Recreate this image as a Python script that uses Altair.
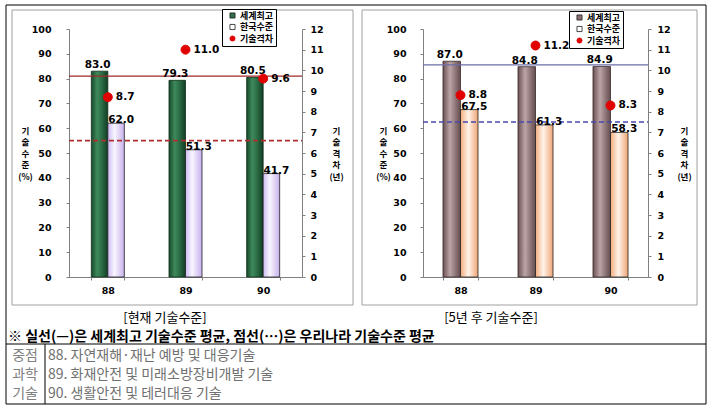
import altair as alt
import pandas as pd

categories = ["88", "89", "90"]
series_names = ["세계최고", "한국수준", "기술격차"]

now_world = [83.0, 79.3, 80.5]
now_korea = [62.0, 51.3, 41.7]
now_gap = [8.7, 11.0, 9.6]
now_world_avg = [81.0]
now_korea_avg = [55.0]

fut_world = [87.0, 84.8, 84.9]
fut_korea = [67.5, 61.3, 58.3]
fut_gap = [8.8, 11.2, 8.3]
fut_world_avg = [85.5]
fut_korea_avg = [62.5]

level_ticks = list(range(0, 101, 10))
gap_ticks = list(range(0, 13))

level_title = ["기", "술", "수", "준", "(%)"]
gap_title = ["기", "술", "격", "차", "(년)"]
captions = ["[현재 기술수준]", "[5년 후 기술수준]"]
note_text = ["※ 실선(—)은 세계최고 기술수준 평균, 점선(…)은 우리나라 기술수준 평균"]
table_heads = ["중점", "과학", "기술"]
table_items = ["88. 자연재해·재난 예방 및 대응기술",
               "89. 화재안전 및 미래소방장비개발 기술",
               "90. 생활안전 및 테러대응 기술"]

W, H = 711, 409
KR = "Noto Sans CJK KR"
NUM = "DejaVu Sans"
Y_BOTTOM, Y_TOP = 277, 29
RED = "#E00000"


def grad(stops):
    return alt.Gradient(gradient="linear", x1=0, x2=1, y1=0, y2=0,
                        stops=[alt.GradientStop(offset=o, color=c) for o, c in stops])


def panel(world, korea, gap, world_avg, korea_avg, cfg):
    x0, x1 = cfg["x0"], cfg["x1"]
    x_enc = alt.X(
        "cat:N",
        scale=alt.Scale(domain=categories, range=[x0, x1],
                        paddingInner=cfg["pad"], paddingOuter=cfg["pad"] / 2),
        axis=alt.Axis(orient="bottom", offset=Y_BOTTOM - H, title=None, labelAngle=0,
                      tickBand="extent", domainColor="#808080", tickColor="#808080",
                      tickSize=3, labelPadding=5, labelFont=NUM, labelFontSize=9.5,
                      labelFontWeight="bold", labelColor="black"))
    xo = alt.XOffset("series:N", scale=alt.Scale(domain=series_names[:2],
                                                 paddingInner=0, paddingOuter=0))
    y_enc = alt.Y(
        "value:Q",
        scale=alt.Scale(domain=[0, 100], range=[Y_BOTTOM, Y_TOP], nice=False),
        axis=alt.Axis(orient="left", offset=-x0, values=level_ticks, grid=False,
                      title=level_title, titleAngle=0, titleX=cfg["ltx"] - x0, titleY=126,
                      titleAlign="center", titleBaseline="top", titleLineHeight=11.5,
                      titleFont=KR, titleFontSize=8.5, titleFontWeight="bold", titleColor="black",
                      domainColor="#808080", tickColor="#808080", tickSize=3,
                      labelPadding=cfg["lpad"], labelFont=NUM, labelFontSize=9.5,
                      labelFontWeight="bold", labelColor="black"))
    g_y = alt.Y(
        "gap:Q",
        scale=alt.Scale(domain=[0, 12], range=[Y_BOTTOM, Y_TOP], nice=False),
        axis=alt.Axis(orient="right", offset=x1 - W, values=gap_ticks, grid=False,
                      title=gap_title, titleAngle=0, titleX=cfg["rtx"] - x1, titleY=126,
                      titleAlign="center", titleBaseline="top", titleLineHeight=11.5,
                      titleFont=KR, titleFontSize=8.5, titleFontWeight="bold", titleColor="black",
                      domainColor="#808080", tickColor="#808080", tickSize=3,
                      labelPadding=cfg["rpad"], labelFont=NUM, labelFontSize=9.5,
                      labelFontWeight="bold", labelColor="black"))

    wdf = pd.DataFrame({"cat": categories, "series": series_names[0], "value": world})
    kdf = pd.DataFrame({"cat": categories, "series": series_names[1], "value": korea})
    gdf = pd.DataFrame({"cat": categories, "kind": series_names[2], "gap": gap})

    bw = alt.Chart(wdf).mark_bar(fill=grad(cfg["wgrad"]), stroke=cfg["wstroke"],
                                 strokeWidth=0.8).encode(x=x_enc, xOffset=xo, y=y_enc)
    bk = alt.Chart(kdf).mark_bar(fill=grad(cfg["kgrad"]), stroke="#202020",
                                 strokeWidth=0.8).encode(x=x_enc, xOffset=xo, y=y_enc)
    lw = alt.Chart(wdf).mark_text(font=NUM, fontSize=10.5, fontWeight="bold", baseline="middle",
                                  dy=-6, dx=-2, color="black").encode(
        x=x_enc, xOffset=xo, y=y_enc, text=alt.Text("value:Q", format=".1f"))
    lk = alt.Chart(kdf).mark_text(font=NUM, fontSize=10.5, fontWeight="bold", baseline="middle",
                                  dy=-3, dx=5, color="black").encode(
        x=x_enc, xOffset=xo, y=y_enc, text=alt.Text("value:Q", format=".1f"))
    rw = alt.Chart(pd.DataFrame({"value": world_avg})).mark_rule(
        color=cfg["solid"], strokeWidth=1.2).encode(y=y_enc, x=alt.value(x0), x2=alt.value(x1))
    rk = alt.Chart(pd.DataFrame({"value": korea_avg})).mark_rule(
        color=cfg["dash"], strokeWidth=1.6, strokeDash=[5, 3]).encode(
        y=y_enc, x=alt.value(x0), x2=alt.value(x1))

    legend = alt.Legend(title=None, orient="none", legendX=cfg["lgx"], legendY=cfg["lgy"],
                        fillColor="white", strokeColor="black", padding=2,
                        labelFont=KR, labelFontSize=9, labelFontWeight="bold", labelColor="black",
                        symbolSize=26, rowPadding=1.5, symbolStrokeWidth=0.8, labelOffset=3,
                        symbolOffset=4, labelExpr="datum.label + '     '")
    dots = alt.Chart(gdf).mark_point(filled=True, size=80, opacity=1, strokeWidth=1).encode(
        x=x_enc, y=g_y,
        color=alt.Color("kind:N", scale=alt.Scale(domain=series_names, range=cfg["legend_fill"]),
                        legend=legend),
        shape=alt.Shape("kind:N", scale=alt.Scale(domain=series_names,
                                                  range=["square", "square", "circle"]),
                        legend=legend),
        stroke=alt.Stroke("kind:N", scale=alt.Scale(domain=series_names,
                                                    range=["#202020", "#202020", RED]),
                          legend=legend))
    gl = alt.Chart(gdf).mark_text(font=NUM, fontSize=10.5, fontWeight="bold", align="left",
                                  baseline="middle", dx=8, color="black").encode(
        x=x_enc, y=g_y, text=alt.Text("gap:Q", format=".1f"))

    primary = alt.layer(bw, bk, rw, rk, lw, lk)
    secondary = alt.layer(dots, gl)
    return alt.layer(primary, secondary).resolve_scale(y="independent")


left_cfg = dict(x0=69, x1=302, pad=0.575, ltx=25, rtx=336, lpad=15, rpad=5,
                lgx=222, lgy=9,
                wgrad=[(0, "#174A2C"), (0.35, "#3E8A5C"), (0.65, "#2A6B44"), (1, "#123D24")],
                kgrad=[(0, "#CDBAF2"), (0.4, "#F9F6FF"), (1, "#C6B0EC")],
                wstroke="#0E2E1A", solid="#A02828", dash="#B03030",
                legend_fill=["#2E7048", "white", RED])
right_cfg = dict(x0=423, x1=648, pad=0.533, ltx=383, rtx=684, lpad=14, rpad=6,
                 lgx=569, lgy=11,
                 wgrad=[(0, "#6A5052"), (0.4, "#BCA5A7"), (1, "#654C4E")],
                 kgrad=[(0, "#F2AE7E"), (0.45, "#FFF4EA"), (1, "#EEA574")],
                 wstroke="#3A2A2B", solid="#6C6CA8", dash="#4848B0",
                 legend_fill=["#8B7072", "white", RED])

left = panel(now_world, now_korea, now_gap, now_world_avg, now_korea_avg, left_cfg)
right = panel(fut_world, fut_korea, fut_gap, fut_world_avg, fut_korea_avg, right_cfg)

one = pd.DataFrame({"k": [0]})


def box(xa, xb, ya, yb, color):
    return alt.Chart(one).mark_rect(fill="transparent", stroke=color, strokeWidth=1).encode(
        x=alt.value(xa), x2=alt.value(xb), y=alt.value(ya), y2=alt.value(yb))


def label(text, xx, yy, **kw):
    return alt.Chart(pd.DataFrame({"t": [text]})).mark_text(**kw).encode(
        text="t:N", x=alt.value(xx), y=alt.value(yy))


deco = [
    box(6, 706, 5, 404, "black"),
    box(12, 353, 10, 305, "#A0A0A0"),
    box(362, 697, 10, 305, "#A0A0A0"),
    alt.Chart(one).mark_rule(color="black", strokeWidth=1).encode(
        x=alt.value(6), x2=alt.value(706), y=alt.value(344)),
    alt.Chart(one).mark_rule(color="black", strokeWidth=1).encode(
        x=alt.value(45), y=alt.value(344), y2=alt.value(404)),
    label(captions[0], 165, 318, font=KR, fontSize=13, align="center", baseline="middle",
          color="black"),
    label(captions[1], 491, 318, font=KR, fontSize=13, align="center", baseline="middle",
          color="black"),
    label(note_text[0], 8, 337, font=KR, fontSize=14, fontWeight="bold", align="left",
          baseline="middle", color="black"),
]
for i, (hd, it) in enumerate(zip(table_heads, table_items)):
    yy = 356 + i * 19
    deco.append(label(hd, 25, yy, font=KR, fontSize=14, align="center", baseline="middle",
                      color="#808080"))
    deco.append(label(it, 48, yy, font=KR, fontSize=14, align="left", baseline="middle",
                      color="#707070"))

chart = alt.layer(*deco, left, right).resolve_scale(
    x="independent", y="independent", xOffset="independent",
    color="independent", shape="independent", stroke="independent"
).properties(
    width=W, height=H, autosize=alt.AutoSizeParams(type="none"), padding=0, background="white"
).configure_view(stroke="transparent")

chart.save("out.html", embed_options={"renderer": "svg", "actions": False})
